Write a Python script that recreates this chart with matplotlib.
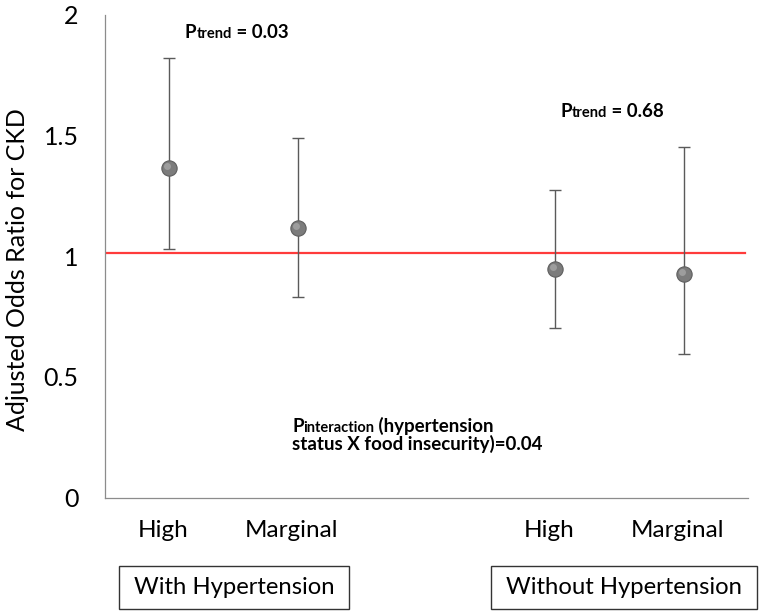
import matplotlib.pyplot as plt
import matplotlib.transforms as mtransforms
from matplotlib.patches import Rectangle

plt.rcParams['font.family'] = ['Lato', 'DejaVu Sans']

# data
groups = ["With Hypertension", "Without Hypertension"]
categories = ["High", "Marginal", "High", "Marginal"]
positions = [0, 1, 3, 4]
odds_ratio = [1.365, 1.116, 0.948, 0.926]
ci_low = [1.029, 0.832, 0.701, 0.594]
ci_high = [1.823, 1.491, 1.275, 1.454]
ref_line = 1.015
yticks = [0, 0.5, 1, 1.5, 2]
ytick_labels = ["0", "0.5", "1", "1.5", "2"]

fig = plt.figure(figsize=(7.64, 6.16), dpi=100)
ax = fig.add_axes([105/764, 1-497.5/616, (748-105)/764, (497.5-15)/616])

ax.axhline(ref_line, xmin=0, xmax=(745-105)/(748-105), color="#ff3b3b", lw=1.6, zorder=1)

yerr = [[o - l for o, l in zip(odds_ratio, ci_low)],
        [h - o for o, h in zip(odds_ratio, ci_high)]]
ax.errorbar(positions, odds_ratio, yerr=yerr, fmt="none", ecolor="#5a5a5a",
            elinewidth=1.0, capsize=4.5, capthick=1.0, zorder=2)
ax.plot(positions, odds_ratio, "o", ms=11, mfc="#7c7c7c", mec="#5e5e5e", mew=0.8, zorder=3)
ax.plot(positions, odds_ratio, "o", ms=5, mfc="#b4b4b4", mec="none", alpha=0.6, zorder=4,
        transform=ax.transData + mtransforms.ScaledTranslation(-1.5/72, 1.5/72, fig.dpi_scale_trans))

ax.set_xlim(-0.5, 4.5)
ax.set_ylim(0, 2)
ax.set_yticks(yticks)
ax.set_yticklabels(ytick_labels, fontsize=18)
ax.set_xticks(positions)
ax.set_xticklabels(categories, fontsize=17.5)
ax.tick_params(axis="both", length=0)
ax.tick_params(axis="y", pad=19)
ax.tick_params(axis="x", pad=16)
shift = mtransforms.ScaledTranslation(-6/100, 0, fig.dpi_scale_trans)
for lab in ax.get_xticklabels():
    lab.set_transform(lab.get_transform() + shift)

for s in ["top", "right"]:
    ax.spines[s].set_visible(False)
for s in ["left", "bottom"]:
    ax.spines[s].set_color("#8c8c8c")
    ax.spines[s].set_linewidth(0.9)

ax.set_ylabel("Adjusted Odds Ratio for CKD", fontsize=18)
ax.yaxis.set_label_coords(-(105-29)/643, 0.473)

# P annotations with small "trend"/"interaction" part
def p_text(x, y, sub, rest):
    t = fig.text(x/764, 1-y/616, "P", fontsize=13.5, fontweight="bold", va="baseline")
    t2 = ax.annotate(sub, xy=(1, 0), xycoords=t, fontsize=10.5, fontweight="bold", va="bottom")
    ax.annotate(rest, xy=(1, 0), xycoords=t2, fontsize=13.5, fontweight="bold", va="bottom")

p_text(185, 38, "trend", " = 0.03")
p_text(560, 117, "trend", " = 0.68")
p_text(292, 432, "interaction", " (hypertension")
fig.text(292/764, 1-450/616, "status X food insecurity)=0.04", fontsize=13.5,
         fontweight="bold", va="baseline")

# group boxes under the axis
for name, (x0, x1) in zip(groups, [(119, 349), (491, 756.7)]):
    fig.patches.append(Rectangle((x0/764, 1-609/616), (x1-x0)/764, 43.5/616,
                                 transform=fig.transFigure, fill=False, ec="#333333", lw=1.0))
    fig.text((x0+x1)/2/764, 1-587.5/616, name, fontsize=17.2, ha="center", va="center")

fig.savefig("out.png", dpi=100)
